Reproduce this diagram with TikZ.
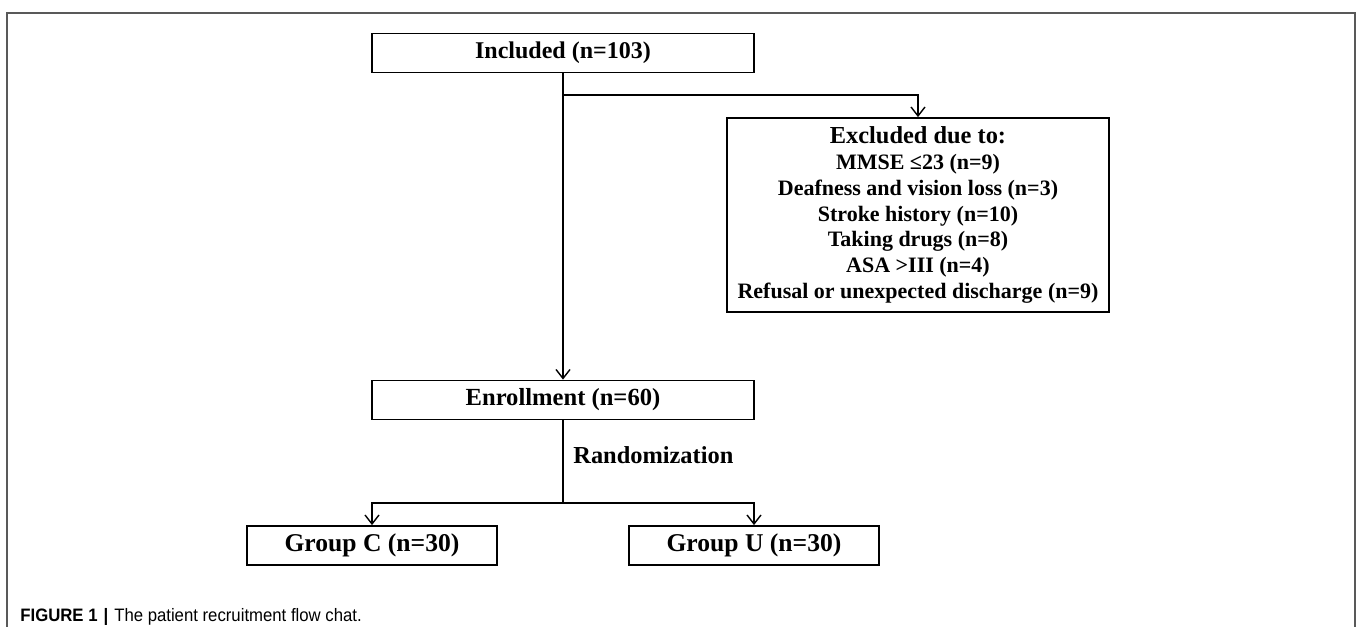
\documentclass[tikz,border=0pt]{standalone}
\usepackage{fontspec}
\setmainfont{Liberation Serif}
\newfontfamily\capfont[FakeStretch=0.93]{Liberation Sans}
\usetikzlibrary{arrows.meta}
\usetikzlibrary{positioning}

\tikzset{
  box/.style={draw, line width=0.9pt, inner sep=0pt, align=center,
              font=\bfseries\fontsize{12}{14}\selectfont},
  wide/.style={box, minimum width=191pt, minimum height=19.5pt},
  grp/.style={box, minimum width=125pt, minimum height=19.5pt,
              font=\bfseries\fontsize{12.8}{14}\selectfont},
  link/.style={line width=0.7pt},
  arr/.style={link, -{Straight Barb[length=4.5pt,width=7pt,line width=0.7pt]}},
}

\begin{document}
\begin{tikzpicture}[x=0.5pt,y=-0.5pt]
\useasboundingbox (0,0) rectangle (1357,627);
% frame, open at the bottom
\draw[black!65, line width=1pt] (7,627) -- (7,13) -- (1355,13) -- (1355,627);

\node[wide] (inc) at (563,53) {Included (n=103)};
\node[box, minimum width=191pt, minimum height=97pt,
      font=\bfseries\fontsize{11}{12.9}\selectfont] (exc) at (918,215)
  {{\fontsize{12.2}{12.9}\selectfont Excluded due to:}\\
   MMSE ≤23 (n=9)\\
   Deafness and vision loss (n=3)\\
   Stroke history (n=10)\\
   Taking drugs (n=8)\\
   ASA >III (n=4)\\
   Refusal or unexpected discharge (n=9)};
\node[wide, font=\bfseries\fontsize{12.3}{14}\selectfont] (enr) at (563,400) {Enrollment (n=60)};
\node[grp] (grpc) at (372,545.5) {Group C (n=30)};
\node[grp] (grpu) at (754,545.5) {Group U (n=30)};
\node[anchor=west, inner sep=0pt, font=\bfseries\fontsize{12.2}{14}\selectfont] (rand) at (573,455) {Randomization};

\coordinate (split) at (563,95);
\coordinate (rsplit) at (563,503);

\draw[arr] (inc.south) -- (enr.north);
\draw[arr] (split) -| (exc.north);
\draw[link] (enr.south) -- (rsplit);
\draw[arr] (rsplit) -| (grpc.north);
\draw[arr] (rsplit) -| (grpu.north);

% caption
\node[anchor=base west, inner sep=0pt, font=\capfont\fontsize{9}{10}\selectfont] (cap) at (20,621)
  {\textbf{FIGURE 1}\,\,\textbf{|}\,\,The patient recruitment flow chat.};
\end{tikzpicture}
\end{document}
